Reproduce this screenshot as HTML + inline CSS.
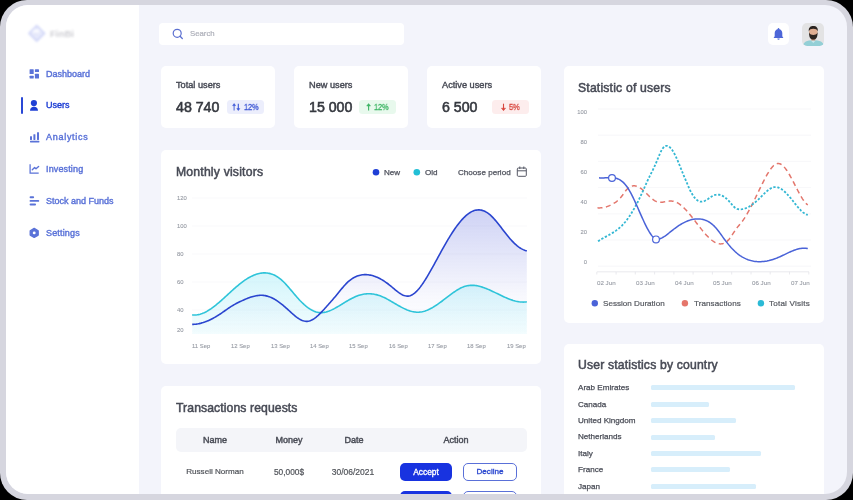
<!DOCTYPE html>
<html><head><meta charset="utf-8"><title>FinBi Dashboard</title>
<style>
*{margin:0;padding:0;box-sizing:border-box;}
html,body{width:853px;height:500px;overflow:hidden;background:#000;font-family:"Liberation Sans", sans-serif;}
.frame{position:absolute;left:0;top:0;width:853px;height:500px;background:#d6d6df;border-radius:27px;}
.inner{position:absolute;left:6px;top:5px;width:841px;height:489px;border-radius:22px;overflow:hidden;background:#f3f4fb;}
.pg{position:absolute;left:-6px;top:-5px;width:853px;height:500px;}
.t{position:absolute;white-space:nowrap;will-change:transform;}
.b{position:absolute;}
.card{position:absolute;background:#fff;border-radius:5px;}
svg{position:absolute;left:0;top:0;overflow:visible;}
</style></head><body>
<div class="frame"></div>
<div class="inner"><div class="pg">
<div class="b" style="left:0px;top:0px;width:139px;height:500px;background:#ffffff;border-radius:0px;"></div>
<svg width="853" height="500" style="filter:blur(1.1px)"><path d="M36.75,25.6 L44.5,33.3 L36.75,41 L29,33.3 Z" fill="#e6e9fb" stroke="#d3d8f8" stroke-width="1.8" stroke-linejoin="round"/><ellipse cx="36.5" cy="31.5" rx="3.8" ry="2.6" fill="#f8f9ff"/><path d="M32,35.5 L35,33 L37.5,34.2 L41.5,30" stroke="#dfe2f8" stroke-width="1" fill="none"/></svg>
<div class="t" style="left:50.40px;top:29.17px;font-size:9.6px;line-height:9.6px;color:#cfcfd4;font-weight:bold;filter:blur(1.1px);">FinBi</div>
<div class="t" style="left:45.50px;top:70.18px;font-size:9px;line-height:9px;color:#5a72d8;-webkit-text-stroke:0.4px #5a72d8;">Dashboard</div>
<div class="t" style="left:45.50px;top:101.38px;font-size:9px;line-height:9px;color:#1e3fd4;-webkit-text-stroke:0.4px #1e3fd4;">Users</div>
<div class="t" style="left:45.50px;top:133.38px;font-size:9px;line-height:9px;color:#5a72d8;-webkit-text-stroke:0.4px #5a72d8;letter-spacing:0.72px;">Analytics</div>
<div class="t" style="left:45.50px;top:165.38px;font-size:9px;line-height:9px;color:#5a72d8;-webkit-text-stroke:0.4px #5a72d8;letter-spacing:0.14px;">Investing</div>
<div class="t" style="left:45.50px;top:196.98px;font-size:9px;line-height:9px;color:#5a72d8;-webkit-text-stroke:0.4px #5a72d8;">Stock and Funds</div>
<div class="t" style="left:45.50px;top:228.78px;font-size:9px;line-height:9px;color:#5a72d8;-webkit-text-stroke:0.4px #5a72d8;letter-spacing:0.17px;">Settings</div>
<div class="b" style="left:21px;top:97px;width:2px;height:17px;background:#2a48d6;border-radius:1px;"></div>
<svg width="853" height="500"><g fill="#5a72d8">
<rect x="29.6" y="69.2" width="4.1" height="4.9" rx="0.6"/><rect x="29.6" y="75.7" width="4.1" height="2.9" rx="0.6"/>
<rect x="34.9" y="69.2" width="4.1" height="2.9" rx="0.6"/><rect x="34.9" y="73.7" width="4.1" height="4.9" rx="0.6"/></g>
<g fill="#1e3fd4"><circle cx="33.9" cy="103.1" r="3.1"/><path d="M30,110.7 C30,108 31.6,106.7 34,106.7 C36.4,106.7 38,108 38,110.7 Z"/></g>
<g fill="#5a72d8"><rect x="30" y="136.2" width="2" height="3.7" rx="0.4"/><rect x="33.4" y="134.2" width="2" height="5.7" rx="0.4"/><rect x="37" y="132.2" width="2" height="7.7" rx="0.4"/><rect x="30" y="140.8" width="9.4" height="1.7" rx="0.4"/></g>
<path d="M30.1,164.3 V173.1 H38.7" stroke="#5a72d8" stroke-width="1.25" fill="none"/>
<path d="M32.3,169.7 L34.6,167.6 L36,168.8 L38.6,166.5" stroke="#5a72d8" stroke-width="1.4" fill="none" stroke-linecap="round" stroke-linejoin="round"/>
<g fill="#5a72d8"><rect x="29.6" y="196.3" width="4.5" height="1.9" rx="0.9"/><rect x="29.6" y="199.9" width="9.6" height="1.9" rx="0.9"/><rect x="29.6" y="203.5" width="6.4" height="1.9" rx="0.9"/></g>
<path d="M34.2,228.4 L38.2,230.7 L38.2,235.1 L34.2,237.4 L30.2,235.1 L30.2,230.7 Z" fill="#5a72d8" stroke="#5a72d8" stroke-width="1.3" stroke-linejoin="round"/>
<circle cx="34.2" cy="232.9" r="1.45" fill="#fff"/>
</svg>
<div class="b" style="left:159px;top:23px;width:245px;height:22px;background:#ffffff;border-radius:4px;"></div>
<svg width="853" height="500"><circle cx="177.2" cy="33.3" r="4.0" stroke="#5b6fd0" stroke-width="1.2" fill="none"/><path d="M180.1,36.3 L182.3,38.5" stroke="#5b6fd0" stroke-width="1.3" stroke-linecap="round"/></svg>
<div class="t" style="left:190.00px;top:30.40px;font-size:7.8px;line-height:7.8px;color:#adafb9;-webkit-text-stroke:0.2px #adafb9;">Search</div>
<div class="b" style="left:767.7px;top:23.3px;width:21.6px;height:22.2px;background:#ffffff;border-radius:5px;"></div>
<svg width="853" height="500"><path d="M773.6,37.9 h9.8 l-1.1,-1.6 v-3.3 c0,-2.3 -1.7,-4.1 -3.8,-4.1 c-2.1,0 -3.8,1.8 -3.8,4.1 v3.3z" fill="#4d66d8"/><circle cx="778.5" cy="28.7" r="0.8" fill="#4d66d8"/><path d="M777.3,38.6 h2.4 a1.2,1.2 0 0 1 -2.4,0z" fill="#4d66d8"/></svg>
<div class="b" style="left:802.3px;top:23px;width:22.2px;height:23px;background:#e3e3e4;border-radius:5px;"></div>
<svg width="853" height="500"><defs><clipPath id="av"><rect x="802.3" y="23" width="22.2" height="23" rx="5"/></clipPath></defs><g clip-path="url(#av)"><path d="M803,46.5 C803,42 806.5,40.2 813.3,40.2 C820,40.2 824,42 824,46.5z" fill="#93cfd6"/><path d="M810.5,40.3 L813.3,43 L816,40.3z" fill="#c9e6ea"/><rect x="811.3" y="36" width="4" height="4.5" fill="#c39077"/><ellipse cx="813.3" cy="32" rx="4.3" ry="5.2" fill="#e0ae92"/><path d="M809,32.3 C809,38.8 811.2,39.6 813.3,39.6 C815.4,39.6 817.6,38.8 817.6,32.3 C816.6,34.6 815,35 813.3,35 C811.6,35 810,34.6 809,32.3z" fill="#2d2521"/><path d="M808.8,31.6 C808.4,27.2 810.6,26 813.3,26 C816,26 818.2,27.2 817.8,31.6 C817.2,29.4 815.6,28.8 813.3,28.8 C811,28.8 809.4,29.4 808.8,31.6z" fill="#2b231f"/></g></svg>
<div class="card" style="left:161px;top:66px;width:114px;height:62px;"></div>
<div class="t" style="left:176.00px;top:81.11px;font-size:9.2px;line-height:9.2px;color:#474a55;-webkit-text-stroke:0.4px #474a55;">Total users</div>
<div class="t" style="left:176.00px;top:99.98px;font-size:14.2px;line-height:14.2px;color:#35383f;-webkit-text-stroke:0.55px #35383f;">48 740</div>
<div class="card" style="left:294px;top:66px;width:114px;height:62px;"></div>
<div class="t" style="left:309.00px;top:81.11px;font-size:9.2px;line-height:9.2px;color:#474a55;-webkit-text-stroke:0.4px #474a55;">New users</div>
<div class="t" style="left:309.00px;top:99.98px;font-size:14.2px;line-height:14.2px;color:#35383f;-webkit-text-stroke:0.55px #35383f;">15 000</div>
<div class="card" style="left:427px;top:66px;width:114px;height:62px;"></div>
<div class="t" style="left:442.00px;top:81.11px;font-size:9.2px;line-height:9.2px;color:#474a55;-webkit-text-stroke:0.4px #474a55;">Active users</div>
<div class="t" style="left:442.00px;top:99.98px;font-size:14.2px;line-height:14.2px;color:#35383f;-webkit-text-stroke:0.55px #35383f;">6 500</div>
<div class="b" style="left:227px;top:100.2px;width:36.6px;height:13.4px;background:#eceefc;border-radius:3.5px;"></div>
<div class="b" style="left:359.2px;top:100.3px;width:36.7px;height:13.4px;background:#e8f9ed;border-radius:3.5px;"></div>
<div class="b" style="left:492.2px;top:100.3px;width:36.5px;height:13.4px;background:#fdeded;border-radius:3.5px;"></div>
<svg width="853" height="500"><path d="M234.1,110.6 V105" stroke="#5a70dc" stroke-width="1.1"/><path d="M232.6,105.6 L234.1,103.6 L235.6,105.6 Z" fill="#3b55d6" stroke="#3b55d6" stroke-width="0.5" stroke-linejoin="round"/><path d="M238.3,103.8 V109.2" stroke="#3b55d6" stroke-width="1.1"/><path d="M236.8,108.6 L238.3,110.6 L239.8,108.6 Z" fill="#3b55d6" stroke="#3b55d6" stroke-width="0.5" stroke-linejoin="round"/><path d="M368.6,110.6 V105.3" stroke="#3db564" stroke-width="1.1"/><path d="M366.7,106 L368.6,103.6 L370.5,106 Z" fill="#3db564" stroke="#3db564" stroke-width="0.5" stroke-linejoin="round"/><path d="M503.5,103.7 V109" stroke="#d8463e" stroke-width="1.1"/><path d="M501.4,108.2 L503.5,110.7 L505.6,108.2 Z" fill="#d8463e" stroke="#d8463e" stroke-width="0.5" stroke-linejoin="round"/></svg>
<div class="t" style="left:244.20px;top:102.82px;font-size:8.6px;line-height:8.6px;color:#3d56d4;-webkit-text-stroke:0.3px #3d56d4;letter-spacing:-0.3px;transform:scaleX(0.88);transform-origin:0 0;">12%</div>
<div class="t" style="left:374.20px;top:102.82px;font-size:8.6px;line-height:8.6px;color:#3db564;-webkit-text-stroke:0.3px #3db564;letter-spacing:-0.3px;transform:scaleX(0.88);transform-origin:0 0;">12%</div>
<div class="t" style="left:509.40px;top:102.82px;font-size:8.6px;line-height:8.6px;color:#d8463e;-webkit-text-stroke:0.3px #d8463e;letter-spacing:-0.3px;transform:scaleX(0.88);transform-origin:0 0;">5%</div>
<div class="card" style="left:161px;top:150px;width:380px;height:214px;"></div>
<div class="t" style="left:176.00px;top:165.97px;font-size:12.2px;line-height:12.2px;color:#474a55;-webkit-text-stroke:0.5px #474a55;letter-spacing:0.2px;">Monthly visitors</div>
<svg width="853" height="500"><circle cx="376" cy="172.3" r="3.3" fill="#1f3fd6"/><circle cx="416.8" cy="172.3" r="3.3" fill="#22bfd6"/></svg>
<div class="t" style="left:384.30px;top:169.04px;font-size:8.1px;line-height:8.1px;color:#4e515c;-webkit-text-stroke:0.25px #4e515c;">New</div>
<div class="t" style="left:424.60px;top:168.54px;font-size:8.1px;line-height:8.1px;color:#4e515c;-webkit-text-stroke:0.25px #4e515c;">Old</div>
<div class="t" style="left:457.50px;top:168.54px;font-size:8.1px;line-height:8.1px;color:#4e515c;-webkit-text-stroke:0.25px #4e515c;">Choose period</div>
<svg width="853" height="500"><rect x="517.3" y="168" width="9" height="8.3" rx="1" stroke="#555864" stroke-width="1" fill="none"/><path d="M517.3,170.8 H526.3 M519.8,166.5 V169 M523.8,166.5 V169" stroke="#555864" stroke-width="1" fill="none"/></svg>
<div class="t" style="left:176.50px;top:195.51px;font-size:5.9px;line-height:5.9px;color:#969aa3;-webkit-text-stroke:0.1px #969aa3;">120</div>
<div class="t" style="left:176.50px;top:223.51px;font-size:5.9px;line-height:5.9px;color:#969aa3;-webkit-text-stroke:0.1px #969aa3;">100</div>
<div class="t" style="left:176.50px;top:251.51px;font-size:5.9px;line-height:5.9px;color:#969aa3;-webkit-text-stroke:0.1px #969aa3;">80</div>
<div class="t" style="left:176.50px;top:279.71px;font-size:5.9px;line-height:5.9px;color:#969aa3;-webkit-text-stroke:0.1px #969aa3;">60</div>
<div class="t" style="left:176.50px;top:307.91px;font-size:5.9px;line-height:5.9px;color:#969aa3;-webkit-text-stroke:0.1px #969aa3;">40</div>
<div class="t" style="left:176.50px;top:328.31px;font-size:5.9px;line-height:5.9px;color:#969aa3;-webkit-text-stroke:0.1px #969aa3;">20</div>
<div class="t" style="left:191.80px;top:343.51px;font-size:5.9px;line-height:5.9px;color:#969aa3;-webkit-text-stroke:0.1px #969aa3;">11 Sep</div>
<div class="t" style="left:231.15px;top:343.51px;font-size:5.9px;line-height:5.9px;color:#969aa3;-webkit-text-stroke:0.1px #969aa3;">12 Sep</div>
<div class="t" style="left:270.50px;top:343.51px;font-size:5.9px;line-height:5.9px;color:#969aa3;-webkit-text-stroke:0.1px #969aa3;">13 Sep</div>
<div class="t" style="left:309.85px;top:343.51px;font-size:5.9px;line-height:5.9px;color:#969aa3;-webkit-text-stroke:0.1px #969aa3;">14 Sep</div>
<div class="t" style="left:349.20px;top:343.51px;font-size:5.9px;line-height:5.9px;color:#969aa3;-webkit-text-stroke:0.1px #969aa3;">15 Sep</div>
<div class="t" style="left:388.55px;top:343.51px;font-size:5.9px;line-height:5.9px;color:#969aa3;-webkit-text-stroke:0.1px #969aa3;">16 Sep</div>
<div class="t" style="left:427.90px;top:343.51px;font-size:5.9px;line-height:5.9px;color:#969aa3;-webkit-text-stroke:0.1px #969aa3;">17 Sep</div>
<div class="t" style="left:467.25px;top:343.51px;font-size:5.9px;line-height:5.9px;color:#969aa3;-webkit-text-stroke:0.1px #969aa3;">18 Sep</div>
<div class="t" style="left:506.60px;top:343.51px;font-size:5.9px;line-height:5.9px;color:#969aa3;-webkit-text-stroke:0.1px #969aa3;">19 Sep</div>
<svg width="853" height="500"><line x1="192" x2="527" y1="198" y2="198" stroke="#f8f8fa" stroke-width="0.8"/><line x1="192" x2="527" y1="226" y2="226" stroke="#f8f8fa" stroke-width="0.8"/><line x1="192" x2="527" y1="254" y2="254" stroke="#f8f8fa" stroke-width="0.8"/><line x1="192" x2="527" y1="282" y2="282" stroke="#f8f8fa" stroke-width="0.8"/><line x1="192" x2="527" y1="310" y2="310" stroke="#f8f8fa" stroke-width="0.8"/></svg>
<svg width="853" height="500"><defs>
<linearGradient id="gb" x1="0" y1="209" x2="0" y2="334" gradientUnits="userSpaceOnUse"><stop offset="0" stop-color="#4a58d8" stop-opacity="0.27"/><stop offset="0.7" stop-color="#4a58d8" stop-opacity="0.04"/><stop offset="1" stop-color="#4a58d8" stop-opacity="0.0"/></linearGradient>
<linearGradient id="gc" x1="0" y1="272" x2="0" y2="334" gradientUnits="userSpaceOnUse"><stop offset="0" stop-color="#6fe0f2" stop-opacity="0.30"/><stop offset="1" stop-color="#6fe0f2" stop-opacity="0.09"/></linearGradient>
</defs>
<path d="M192.20,324.37 L193.20,324.36 L194.20,324.31 L195.20,324.23 L196.20,324.12 L197.20,323.98 L198.20,323.81 L199.20,323.61 L200.20,323.38 L201.20,323.13 L202.20,322.85 L203.20,322.55 L204.20,322.22 L205.20,321.87 L206.20,321.49 L207.20,321.09 L208.20,320.66 L209.20,320.21 L210.20,319.74 L211.20,319.25 L212.20,318.74 L213.20,318.21 L214.20,317.66 L215.20,317.09 L216.20,316.50 L217.20,315.90 L218.20,315.27 L219.20,314.64 L220.20,313.98 L221.20,313.31 L222.20,312.63 L223.20,311.93 L224.20,311.23 L225.20,310.53 L226.20,309.82 L227.20,309.12 L228.20,308.43 L229.20,307.75 L230.20,307.09 L231.20,306.44 L232.20,305.82 L233.20,305.23 L234.20,304.65 L235.20,304.10 L236.20,303.57 L237.20,303.05 L238.20,302.55 L239.20,302.06 L240.20,301.58 L241.20,301.11 L242.20,300.64 L243.20,300.19 L244.20,299.74 L245.20,299.31 L246.20,298.88 L247.20,298.48 L248.20,298.09 L249.20,297.71 L250.20,297.36 L251.20,297.03 L252.20,296.73 L253.20,296.44 L254.20,296.19 L255.20,295.96 L256.20,295.77 L257.20,295.60 L258.20,295.47 L259.20,295.38 L260.20,295.32 L261.20,295.30 L262.20,295.32 L263.20,295.39 L264.20,295.50 L265.20,295.65 L266.20,295.85 L267.20,296.10 L268.20,296.40 L269.20,296.74 L270.20,297.12 L271.20,297.55 L272.20,298.02 L273.20,298.53 L274.20,299.07 L275.20,299.66 L276.20,300.27 L277.20,300.93 L278.20,301.61 L279.20,302.32 L280.20,303.06 L281.20,303.83 L282.20,304.63 L283.20,305.45 L284.20,306.29 L285.20,307.15 L286.20,308.04 L287.20,308.94 L288.20,309.85 L289.20,310.77 L290.20,311.69 L291.20,312.60 L292.20,313.49 L293.20,314.37 L294.20,315.23 L295.20,316.05 L296.20,316.84 L297.20,317.58 L298.20,318.28 L299.20,318.92 L300.20,319.50 L301.20,320.01 L302.20,320.45 L303.20,320.81 L304.20,321.09 L305.20,321.27 L306.20,321.36 L307.20,321.35 L308.20,321.23 L309.20,321.01 L310.20,320.69 L311.20,320.28 L312.20,319.79 L313.20,319.21 L314.20,318.57 L315.20,317.85 L316.20,317.07 L317.20,316.23 L318.20,315.34 L319.20,314.40 L320.20,313.42 L321.20,312.41 L322.20,311.36 L323.20,310.28 L324.20,309.19 L325.20,308.08 L326.20,306.96 L327.20,305.84 L328.20,304.71 L329.20,303.58 L330.20,302.45 L331.20,301.32 L332.20,300.17 L333.20,299.02 L334.20,297.85 L335.20,296.67 L336.20,295.48 L337.20,294.27 L338.20,293.04 L339.20,291.81 L340.20,290.57 L341.20,289.34 L342.20,288.13 L343.20,286.95 L344.20,285.80 L345.20,284.69 L346.20,283.64 L347.20,282.64 L348.20,281.71 L349.20,280.84 L350.20,280.04 L351.20,279.29 L352.20,278.61 L353.20,277.99 L354.20,277.42 L355.20,276.91 L356.20,276.46 L357.20,276.06 L358.20,275.71 L359.20,275.41 L360.20,275.16 L361.20,274.96 L362.20,274.81 L363.20,274.70 L364.20,274.64 L365.20,274.61 L366.20,274.63 L367.20,274.69 L368.20,274.79 L369.20,274.93 L370.20,275.10 L371.20,275.31 L372.20,275.56 L373.20,275.85 L374.20,276.17 L375.20,276.52 L376.20,276.91 L377.20,277.33 L378.20,277.79 L379.20,278.27 L380.20,278.79 L381.20,279.34 L382.20,279.92 L383.20,280.53 L384.20,281.17 L385.20,281.84 L386.20,282.54 L387.20,283.26 L388.20,284.01 L389.20,284.78 L390.20,285.58 L391.20,286.41 L392.20,287.25 L393.20,288.09 L394.20,288.93 L395.20,289.77 L396.20,290.59 L397.20,291.38 L398.20,292.14 L399.20,292.85 L400.20,293.52 L401.20,294.13 L402.20,294.68 L403.20,295.15 L404.20,295.54 L405.20,295.84 L406.20,296.04 L407.20,296.13 L408.20,296.11 L409.20,295.97 L410.20,295.70 L411.20,295.31 L412.20,294.80 L413.20,294.18 L414.20,293.45 L415.20,292.62 L416.20,291.70 L417.20,290.68 L418.20,289.58 L419.20,288.39 L420.20,287.13 L421.20,285.79 L422.20,284.40 L423.20,282.94 L424.20,281.42 L425.20,279.86 L426.20,278.24 L427.20,276.59 L428.20,274.91 L429.20,273.19 L430.20,271.45 L431.20,269.69 L432.20,267.90 L433.20,266.10 L434.20,264.29 L435.20,262.47 L436.20,260.63 L437.20,258.80 L438.20,256.96 L439.20,255.13 L440.20,253.30 L441.20,251.48 L442.20,249.67 L443.20,247.87 L444.20,246.09 L445.20,244.33 L446.20,242.60 L447.20,240.88 L448.20,239.20 L449.20,237.54 L450.20,235.92 L451.20,234.32 L452.20,232.76 L453.20,231.23 L454.20,229.74 L455.20,228.30 L456.20,226.89 L457.20,225.52 L458.20,224.20 L459.20,222.93 L460.20,221.70 L461.20,220.52 L462.20,219.40 L463.20,218.33 L464.20,217.31 L465.20,216.35 L466.20,215.45 L467.20,214.61 L468.20,213.83 L469.20,213.12 L470.20,212.48 L471.20,211.90 L472.20,211.39 L473.20,210.95 L474.20,210.59 L475.20,210.30 L476.20,210.09 L477.20,209.95 L478.20,209.88 L479.20,209.89 L480.20,209.98 L481.20,210.14 L482.20,210.37 L483.20,210.68 L484.20,211.07 L485.20,211.53 L486.20,212.07 L487.20,212.68 L488.20,213.36 L489.20,214.12 L490.20,214.96 L491.20,215.87 L492.20,216.84 L493.20,217.88 L494.20,218.96 L495.20,220.10 L496.20,221.28 L497.20,222.49 L498.20,223.74 L499.20,225.01 L500.20,226.30 L501.20,227.60 L502.20,228.91 L503.20,230.21 L504.20,231.52 L505.20,232.81 L506.20,234.09 L507.20,235.35 L508.20,236.57 L509.20,237.76 L510.20,238.92 L511.20,240.03 L512.20,241.10 L513.20,242.13 L514.20,243.12 L515.20,244.05 L516.20,244.94 L517.20,245.77 L518.20,246.56 L519.20,247.29 L520.20,247.96 L521.20,248.58 L522.20,249.13 L523.20,249.63 L524.20,250.06 L525.20,250.43 L526.20,250.73 L526.80,250.88 L526.8,334 L192.2,334 Z" fill="url(#gb)"/>
<path d="M192.20,314.85 L193.20,314.96 L194.20,315.00 L195.20,314.99 L196.20,314.93 L197.20,314.81 L198.20,314.65 L199.20,314.43 L200.20,314.16 L201.20,313.85 L202.20,313.50 L203.20,313.10 L204.20,312.66 L205.20,312.19 L206.20,311.67 L207.20,311.12 L208.20,310.53 L209.20,309.91 L210.20,309.26 L211.20,308.59 L212.20,307.88 L213.20,307.15 L214.20,306.39 L215.20,305.61 L216.20,304.81 L217.20,303.99 L218.20,303.15 L219.20,302.30 L220.20,301.43 L221.20,300.55 L222.20,299.66 L223.20,298.76 L224.20,297.85 L225.20,296.94 L226.20,296.02 L227.20,295.10 L228.20,294.18 L229.20,293.25 L230.20,292.34 L231.20,291.42 L232.20,290.51 L233.20,289.61 L234.20,288.72 L235.20,287.83 L236.20,286.96 L237.20,286.11 L238.20,285.27 L239.20,284.45 L240.20,283.64 L241.20,282.86 L242.20,282.10 L243.20,281.36 L244.20,280.65 L245.20,279.96 L246.20,279.30 L247.20,278.66 L248.20,278.05 L249.20,277.47 L250.20,276.92 L251.20,276.41 L252.20,275.92 L253.20,275.46 L254.20,275.04 L255.20,274.65 L256.20,274.30 L257.20,273.99 L258.20,273.71 L259.20,273.47 L260.20,273.27 L261.20,273.11 L262.20,272.99 L263.20,272.91 L264.20,272.87 L265.20,272.88 L266.20,272.93 L267.20,273.03 L268.20,273.17 L269.20,273.36 L270.20,273.60 L271.20,273.89 L272.20,274.23 L273.20,274.62 L274.20,275.07 L275.20,275.56 L276.20,276.11 L277.20,276.72 L278.20,277.38 L279.20,278.09 L280.20,278.87 L281.20,279.70 L282.20,280.59 L283.20,281.54 L284.20,282.53 L285.20,283.56 L286.20,284.64 L287.20,285.74 L288.20,286.87 L289.20,288.03 L290.20,289.20 L291.20,290.38 L292.20,291.58 L293.20,292.77 L294.20,293.96 L295.20,295.14 L296.20,296.31 L297.20,297.45 L298.20,298.58 L299.20,299.67 L300.20,300.74 L301.20,301.76 L302.20,302.75 L303.20,303.70 L304.20,304.62 L305.20,305.49 L306.20,306.32 L307.20,307.10 L308.20,307.84 L309.20,308.53 L310.20,309.18 L311.20,309.77 L312.20,310.31 L313.20,310.80 L314.20,311.24 L315.20,311.62 L316.20,311.94 L317.20,312.20 L318.20,312.40 L319.20,312.54 L320.20,312.62 L321.20,312.63 L322.20,312.59 L323.20,312.50 L324.20,312.35 L325.20,312.16 L326.20,311.91 L327.20,311.63 L328.20,311.30 L329.20,310.94 L330.20,310.54 L331.20,310.11 L332.20,309.65 L333.20,309.16 L334.20,308.65 L335.20,308.11 L336.20,307.56 L337.20,306.99 L338.20,306.41 L339.20,305.82 L340.20,305.21 L341.20,304.61 L342.20,303.99 L343.20,303.38 L344.20,302.77 L345.20,302.16 L346.20,301.55 L347.20,300.95 L348.20,300.37 L349.20,299.79 L350.20,299.23 L351.20,298.69 L352.20,298.16 L353.20,297.66 L354.20,297.18 L355.20,296.73 L356.20,296.31 L357.20,295.91 L358.20,295.55 L359.20,295.22 L360.20,294.93 L361.20,294.67 L362.20,294.44 L363.20,294.24 L364.20,294.07 L365.20,293.94 L366.20,293.84 L367.20,293.77 L368.20,293.74 L369.20,293.74 L370.20,293.77 L371.20,293.83 L372.20,293.93 L373.20,294.06 L374.20,294.22 L375.20,294.41 L376.20,294.64 L377.20,294.89 L378.20,295.18 L379.20,295.51 L380.20,295.86 L381.20,296.25 L382.20,296.67 L383.20,297.11 L384.20,297.58 L385.20,298.07 L386.20,298.58 L387.20,299.11 L388.20,299.66 L389.20,300.22 L390.20,300.78 L391.20,301.36 L392.20,301.95 L393.20,302.53 L394.20,303.12 L395.20,303.71 L396.20,304.30 L397.20,304.88 L398.20,305.45 L399.20,306.01 L400.20,306.56 L401.20,307.10 L402.20,307.62 L403.20,308.12 L404.20,308.60 L405.20,309.06 L406.20,309.49 L407.20,309.90 L408.20,310.28 L409.20,310.63 L410.20,310.95 L411.20,311.24 L412.20,311.49 L413.20,311.71 L414.20,311.89 L415.20,312.03 L416.20,312.12 L417.20,312.18 L418.20,312.18 L419.20,312.14 L420.20,312.05 L421.20,311.92 L422.20,311.73 L423.20,311.50 L424.20,311.23 L425.20,310.92 L426.20,310.56 L427.20,310.17 L428.20,309.74 L429.20,309.28 L430.20,308.79 L431.20,308.26 L432.20,307.71 L433.20,307.13 L434.20,306.52 L435.20,305.90 L436.20,305.25 L437.20,304.57 L438.20,303.89 L439.20,303.18 L440.20,302.46 L441.20,301.73 L442.20,300.99 L443.20,300.23 L444.20,299.47 L445.20,298.71 L446.20,297.94 L447.20,297.17 L448.20,296.40 L449.20,295.64 L450.20,294.88 L451.20,294.14 L452.20,293.41 L453.20,292.69 L454.20,291.99 L455.20,291.31 L456.20,290.65 L457.20,290.03 L458.20,289.43 L459.20,288.86 L460.20,288.32 L461.20,287.83 L462.20,287.37 L463.20,286.96 L464.20,286.59 L465.20,286.26 L466.20,285.99 L467.20,285.77 L468.20,285.59 L469.20,285.46 L470.20,285.37 L471.20,285.33 L472.20,285.32 L473.20,285.35 L474.20,285.42 L475.20,285.53 L476.20,285.66 L477.20,285.83 L478.20,286.04 L479.20,286.27 L480.20,286.52 L481.20,286.81 L482.20,287.12 L483.20,287.45 L484.20,287.80 L485.20,288.17 L486.20,288.56 L487.20,288.96 L488.20,289.38 L489.20,289.82 L490.20,290.26 L491.20,290.72 L492.20,291.18 L493.20,291.66 L494.20,292.13 L495.20,292.62 L496.20,293.11 L497.20,293.59 L498.20,294.08 L499.20,294.57 L500.20,295.05 L501.20,295.54 L502.20,296.01 L503.20,296.48 L504.20,296.94 L505.20,297.39 L506.20,297.83 L507.20,298.25 L508.20,298.66 L509.20,299.06 L510.20,299.43 L511.20,299.79 L512.20,300.13 L513.20,300.45 L514.20,300.74 L515.20,301.01 L516.20,301.25 L517.20,301.46 L518.20,301.65 L519.20,301.81 L520.20,301.93 L521.20,302.02 L522.20,302.07 L523.20,302.09 L524.20,302.07 L525.20,302.01 L526.20,301.91 L526.80,301.83 L526.8,334 L192.2,334 Z" fill="url(#gc)"/>
<path d="M192.20,314.85 L193.20,314.96 L194.20,315.00 L195.20,314.99 L196.20,314.93 L197.20,314.81 L198.20,314.65 L199.20,314.43 L200.20,314.16 L201.20,313.85 L202.20,313.50 L203.20,313.10 L204.20,312.66 L205.20,312.19 L206.20,311.67 L207.20,311.12 L208.20,310.53 L209.20,309.91 L210.20,309.26 L211.20,308.59 L212.20,307.88 L213.20,307.15 L214.20,306.39 L215.20,305.61 L216.20,304.81 L217.20,303.99 L218.20,303.15 L219.20,302.30 L220.20,301.43 L221.20,300.55 L222.20,299.66 L223.20,298.76 L224.20,297.85 L225.20,296.94 L226.20,296.02 L227.20,295.10 L228.20,294.18 L229.20,293.25 L230.20,292.34 L231.20,291.42 L232.20,290.51 L233.20,289.61 L234.20,288.72 L235.20,287.83 L236.20,286.96 L237.20,286.11 L238.20,285.27 L239.20,284.45 L240.20,283.64 L241.20,282.86 L242.20,282.10 L243.20,281.36 L244.20,280.65 L245.20,279.96 L246.20,279.30 L247.20,278.66 L248.20,278.05 L249.20,277.47 L250.20,276.92 L251.20,276.41 L252.20,275.92 L253.20,275.46 L254.20,275.04 L255.20,274.65 L256.20,274.30 L257.20,273.99 L258.20,273.71 L259.20,273.47 L260.20,273.27 L261.20,273.11 L262.20,272.99 L263.20,272.91 L264.20,272.87 L265.20,272.88 L266.20,272.93 L267.20,273.03 L268.20,273.17 L269.20,273.36 L270.20,273.60 L271.20,273.89 L272.20,274.23 L273.20,274.62 L274.20,275.07 L275.20,275.56 L276.20,276.11 L277.20,276.72 L278.20,277.38 L279.20,278.09 L280.20,278.87 L281.20,279.70 L282.20,280.59 L283.20,281.54 L284.20,282.53 L285.20,283.56 L286.20,284.64 L287.20,285.74 L288.20,286.87 L289.20,288.03 L290.20,289.20 L291.20,290.38 L292.20,291.58 L293.20,292.77 L294.20,293.96 L295.20,295.14 L296.20,296.31 L297.20,297.45 L298.20,298.58 L299.20,299.67 L300.20,300.74 L301.20,301.76 L302.20,302.75 L303.20,303.70 L304.20,304.62 L305.20,305.49 L306.20,306.32 L307.20,307.10 L308.20,307.84 L309.20,308.53 L310.20,309.18 L311.20,309.77 L312.20,310.31 L313.20,310.80 L314.20,311.24 L315.20,311.62 L316.20,311.94 L317.20,312.20 L318.20,312.40 L319.20,312.54 L320.20,312.62 L321.20,312.63 L322.20,312.59 L323.20,312.50 L324.20,312.35 L325.20,312.16 L326.20,311.91 L327.20,311.63 L328.20,311.30 L329.20,310.94 L330.20,310.54 L331.20,310.11 L332.20,309.65 L333.20,309.16 L334.20,308.65 L335.20,308.11 L336.20,307.56 L337.20,306.99 L338.20,306.41 L339.20,305.82 L340.20,305.21 L341.20,304.61 L342.20,303.99 L343.20,303.38 L344.20,302.77 L345.20,302.16 L346.20,301.55 L347.20,300.95 L348.20,300.37 L349.20,299.79 L350.20,299.23 L351.20,298.69 L352.20,298.16 L353.20,297.66 L354.20,297.18 L355.20,296.73 L356.20,296.31 L357.20,295.91 L358.20,295.55 L359.20,295.22 L360.20,294.93 L361.20,294.67 L362.20,294.44 L363.20,294.24 L364.20,294.07 L365.20,293.94 L366.20,293.84 L367.20,293.77 L368.20,293.74 L369.20,293.74 L370.20,293.77 L371.20,293.83 L372.20,293.93 L373.20,294.06 L374.20,294.22 L375.20,294.41 L376.20,294.64 L377.20,294.89 L378.20,295.18 L379.20,295.51 L380.20,295.86 L381.20,296.25 L382.20,296.67 L383.20,297.11 L384.20,297.58 L385.20,298.07 L386.20,298.58 L387.20,299.11 L388.20,299.66 L389.20,300.22 L390.20,300.78 L391.20,301.36 L392.20,301.95 L393.20,302.53 L394.20,303.12 L395.20,303.71 L396.20,304.30 L397.20,304.88 L398.20,305.45 L399.20,306.01 L400.20,306.56 L401.20,307.10 L402.20,307.62 L403.20,308.12 L404.20,308.60 L405.20,309.06 L406.20,309.49 L407.20,309.90 L408.20,310.28 L409.20,310.63 L410.20,310.95 L411.20,311.24 L412.20,311.49 L413.20,311.71 L414.20,311.89 L415.20,312.03 L416.20,312.12 L417.20,312.18 L418.20,312.18 L419.20,312.14 L420.20,312.05 L421.20,311.92 L422.20,311.73 L423.20,311.50 L424.20,311.23 L425.20,310.92 L426.20,310.56 L427.20,310.17 L428.20,309.74 L429.20,309.28 L430.20,308.79 L431.20,308.26 L432.20,307.71 L433.20,307.13 L434.20,306.52 L435.20,305.90 L436.20,305.25 L437.20,304.57 L438.20,303.89 L439.20,303.18 L440.20,302.46 L441.20,301.73 L442.20,300.99 L443.20,300.23 L444.20,299.47 L445.20,298.71 L446.20,297.94 L447.20,297.17 L448.20,296.40 L449.20,295.64 L450.20,294.88 L451.20,294.14 L452.20,293.41 L453.20,292.69 L454.20,291.99 L455.20,291.31 L456.20,290.65 L457.20,290.03 L458.20,289.43 L459.20,288.86 L460.20,288.32 L461.20,287.83 L462.20,287.37 L463.20,286.96 L464.20,286.59 L465.20,286.26 L466.20,285.99 L467.20,285.77 L468.20,285.59 L469.20,285.46 L470.20,285.37 L471.20,285.33 L472.20,285.32 L473.20,285.35 L474.20,285.42 L475.20,285.53 L476.20,285.66 L477.20,285.83 L478.20,286.04 L479.20,286.27 L480.20,286.52 L481.20,286.81 L482.20,287.12 L483.20,287.45 L484.20,287.80 L485.20,288.17 L486.20,288.56 L487.20,288.96 L488.20,289.38 L489.20,289.82 L490.20,290.26 L491.20,290.72 L492.20,291.18 L493.20,291.66 L494.20,292.13 L495.20,292.62 L496.20,293.11 L497.20,293.59 L498.20,294.08 L499.20,294.57 L500.20,295.05 L501.20,295.54 L502.20,296.01 L503.20,296.48 L504.20,296.94 L505.20,297.39 L506.20,297.83 L507.20,298.25 L508.20,298.66 L509.20,299.06 L510.20,299.43 L511.20,299.79 L512.20,300.13 L513.20,300.45 L514.20,300.74 L515.20,301.01 L516.20,301.25 L517.20,301.46 L518.20,301.65 L519.20,301.81 L520.20,301.93 L521.20,302.02 L522.20,302.07 L523.20,302.09 L524.20,302.07 L525.20,302.01 L526.20,301.91 L526.80,301.83" stroke="#2ec4d9" stroke-width="1.6" fill="none"/>
<path d="M192.20,324.37 L193.20,324.36 L194.20,324.31 L195.20,324.23 L196.20,324.12 L197.20,323.98 L198.20,323.81 L199.20,323.61 L200.20,323.38 L201.20,323.13 L202.20,322.85 L203.20,322.55 L204.20,322.22 L205.20,321.87 L206.20,321.49 L207.20,321.09 L208.20,320.66 L209.20,320.21 L210.20,319.74 L211.20,319.25 L212.20,318.74 L213.20,318.21 L214.20,317.66 L215.20,317.09 L216.20,316.50 L217.20,315.90 L218.20,315.27 L219.20,314.64 L220.20,313.98 L221.20,313.31 L222.20,312.63 L223.20,311.93 L224.20,311.23 L225.20,310.53 L226.20,309.82 L227.20,309.12 L228.20,308.43 L229.20,307.75 L230.20,307.09 L231.20,306.44 L232.20,305.82 L233.20,305.23 L234.20,304.65 L235.20,304.10 L236.20,303.57 L237.20,303.05 L238.20,302.55 L239.20,302.06 L240.20,301.58 L241.20,301.11 L242.20,300.64 L243.20,300.19 L244.20,299.74 L245.20,299.31 L246.20,298.88 L247.20,298.48 L248.20,298.09 L249.20,297.71 L250.20,297.36 L251.20,297.03 L252.20,296.73 L253.20,296.44 L254.20,296.19 L255.20,295.96 L256.20,295.77 L257.20,295.60 L258.20,295.47 L259.20,295.38 L260.20,295.32 L261.20,295.30 L262.20,295.32 L263.20,295.39 L264.20,295.50 L265.20,295.65 L266.20,295.85 L267.20,296.10 L268.20,296.40 L269.20,296.74 L270.20,297.12 L271.20,297.55 L272.20,298.02 L273.20,298.53 L274.20,299.07 L275.20,299.66 L276.20,300.27 L277.20,300.93 L278.20,301.61 L279.20,302.32 L280.20,303.06 L281.20,303.83 L282.20,304.63 L283.20,305.45 L284.20,306.29 L285.20,307.15 L286.20,308.04 L287.20,308.94 L288.20,309.85 L289.20,310.77 L290.20,311.69 L291.20,312.60 L292.20,313.49 L293.20,314.37 L294.20,315.23 L295.20,316.05 L296.20,316.84 L297.20,317.58 L298.20,318.28 L299.20,318.92 L300.20,319.50 L301.20,320.01 L302.20,320.45 L303.20,320.81 L304.20,321.09 L305.20,321.27 L306.20,321.36 L307.20,321.35 L308.20,321.23 L309.20,321.01 L310.20,320.69 L311.20,320.28 L312.20,319.79 L313.20,319.21 L314.20,318.57 L315.20,317.85 L316.20,317.07 L317.20,316.23 L318.20,315.34 L319.20,314.40 L320.20,313.42 L321.20,312.41 L322.20,311.36 L323.20,310.28 L324.20,309.19 L325.20,308.08 L326.20,306.96 L327.20,305.84 L328.20,304.71 L329.20,303.58 L330.20,302.45 L331.20,301.32 L332.20,300.17 L333.20,299.02 L334.20,297.85 L335.20,296.67 L336.20,295.48 L337.20,294.27 L338.20,293.04 L339.20,291.81 L340.20,290.57 L341.20,289.34 L342.20,288.13 L343.20,286.95 L344.20,285.80 L345.20,284.69 L346.20,283.64 L347.20,282.64 L348.20,281.71 L349.20,280.84 L350.20,280.04 L351.20,279.29 L352.20,278.61 L353.20,277.99 L354.20,277.42 L355.20,276.91 L356.20,276.46 L357.20,276.06 L358.20,275.71 L359.20,275.41 L360.20,275.16 L361.20,274.96 L362.20,274.81 L363.20,274.70 L364.20,274.64 L365.20,274.61 L366.20,274.63 L367.20,274.69 L368.20,274.79 L369.20,274.93 L370.20,275.10 L371.20,275.31 L372.20,275.56 L373.20,275.85 L374.20,276.17 L375.20,276.52 L376.20,276.91 L377.20,277.33 L378.20,277.79 L379.20,278.27 L380.20,278.79 L381.20,279.34 L382.20,279.92 L383.20,280.53 L384.20,281.17 L385.20,281.84 L386.20,282.54 L387.20,283.26 L388.20,284.01 L389.20,284.78 L390.20,285.58 L391.20,286.41 L392.20,287.25 L393.20,288.09 L394.20,288.93 L395.20,289.77 L396.20,290.59 L397.20,291.38 L398.20,292.14 L399.20,292.85 L400.20,293.52 L401.20,294.13 L402.20,294.68 L403.20,295.15 L404.20,295.54 L405.20,295.84 L406.20,296.04 L407.20,296.13 L408.20,296.11 L409.20,295.97 L410.20,295.70 L411.20,295.31 L412.20,294.80 L413.20,294.18 L414.20,293.45 L415.20,292.62 L416.20,291.70 L417.20,290.68 L418.20,289.58 L419.20,288.39 L420.20,287.13 L421.20,285.79 L422.20,284.40 L423.20,282.94 L424.20,281.42 L425.20,279.86 L426.20,278.24 L427.20,276.59 L428.20,274.91 L429.20,273.19 L430.20,271.45 L431.20,269.69 L432.20,267.90 L433.20,266.10 L434.20,264.29 L435.20,262.47 L436.20,260.63 L437.20,258.80 L438.20,256.96 L439.20,255.13 L440.20,253.30 L441.20,251.48 L442.20,249.67 L443.20,247.87 L444.20,246.09 L445.20,244.33 L446.20,242.60 L447.20,240.88 L448.20,239.20 L449.20,237.54 L450.20,235.92 L451.20,234.32 L452.20,232.76 L453.20,231.23 L454.20,229.74 L455.20,228.30 L456.20,226.89 L457.20,225.52 L458.20,224.20 L459.20,222.93 L460.20,221.70 L461.20,220.52 L462.20,219.40 L463.20,218.33 L464.20,217.31 L465.20,216.35 L466.20,215.45 L467.20,214.61 L468.20,213.83 L469.20,213.12 L470.20,212.48 L471.20,211.90 L472.20,211.39 L473.20,210.95 L474.20,210.59 L475.20,210.30 L476.20,210.09 L477.20,209.95 L478.20,209.88 L479.20,209.89 L480.20,209.98 L481.20,210.14 L482.20,210.37 L483.20,210.68 L484.20,211.07 L485.20,211.53 L486.20,212.07 L487.20,212.68 L488.20,213.36 L489.20,214.12 L490.20,214.96 L491.20,215.87 L492.20,216.84 L493.20,217.88 L494.20,218.96 L495.20,220.10 L496.20,221.28 L497.20,222.49 L498.20,223.74 L499.20,225.01 L500.20,226.30 L501.20,227.60 L502.20,228.91 L503.20,230.21 L504.20,231.52 L505.20,232.81 L506.20,234.09 L507.20,235.35 L508.20,236.57 L509.20,237.76 L510.20,238.92 L511.20,240.03 L512.20,241.10 L513.20,242.13 L514.20,243.12 L515.20,244.05 L516.20,244.94 L517.20,245.77 L518.20,246.56 L519.20,247.29 L520.20,247.96 L521.20,248.58 L522.20,249.13 L523.20,249.63 L524.20,250.06 L525.20,250.43 L526.20,250.73 L526.80,250.88" stroke="#2a45cf" stroke-width="1.6" fill="none"/>
</svg>
<div class="card" style="left:161px;top:386px;width:380px;height:130px;"></div>
<div class="t" style="left:176.00px;top:402.27px;font-size:12.2px;line-height:12.2px;color:#474a55;-webkit-text-stroke:0.5px #474a55;letter-spacing:0.1px;">Transactions requests</div>
<div class="b" style="left:175.5px;top:428px;width:351.5px;height:24px;background:#f4f5f9;border-radius:5px;"></div>
<div class="t" style="left:64.50px;width:300px;text-align:center;top:435.78px;font-size:9px;line-height:9px;color:#4a4d57;-webkit-text-stroke:0.45px #4a4d57;">Name</div>
<div class="t" style="left:138.70px;width:300px;text-align:center;top:435.78px;font-size:9px;line-height:9px;color:#4a4d57;-webkit-text-stroke:0.45px #4a4d57;">Money</div>
<div class="t" style="left:203.50px;width:300px;text-align:center;top:435.78px;font-size:9px;line-height:9px;color:#4a4d57;-webkit-text-stroke:0.45px #4a4d57;">Date</div>
<div class="t" style="left:306.40px;width:300px;text-align:center;top:435.78px;font-size:9px;line-height:9px;color:#4a4d57;-webkit-text-stroke:0.45px #4a4d57;">Action</div>
<div class="t" style="left:64.50px;width:300px;text-align:center;top:468.04px;font-size:8.1px;line-height:8.1px;color:#505359;-webkit-text-stroke:0.2px #505359;">Russell Norman</div>
<div class="t" style="left:138.70px;width:300px;text-align:center;top:467.87px;font-size:8.3px;line-height:8.3px;color:#505359;-webkit-text-stroke:0.2px #505359;">50,000$</div>
<div class="t" style="left:203.10px;width:300px;text-align:center;top:467.70px;font-size:8.5px;line-height:8.5px;color:#505359;-webkit-text-stroke:0.2px #505359;">30/06/2021</div>
<div class="b" style="left:399.6px;top:462.9px;width:52.8px;height:17.8px;background:#1833e0;border-radius:5px;"></div>
<div class="t" style="left:275.90px;width:300px;text-align:center;top:467.99px;font-size:8.4px;line-height:8.4px;color:#ffffff;-webkit-text-stroke:0.35px #ffffff;">Accept</div>
<div class="b" style="left:462.5px;top:462.9px;width:54.8px;height:17.8px;background:#ffffff;border-radius:5px;border:1px solid #5a70d8;"></div>
<div class="t" style="left:339.80px;width:300px;text-align:center;top:468.24px;font-size:8.1px;line-height:8.1px;color:#2e4bd0;-webkit-text-stroke:0.35px #2e4bd0;">Decline</div>
<div class="b" style="left:399.6px;top:490.9px;width:52.8px;height:17.8px;background:#1833e0;border-radius:5px;"></div>
<div class="b" style="left:462.5px;top:490.9px;width:54.8px;height:17.8px;background:#ffffff;border-radius:5px;border:1px solid #5a70d8;"></div>
<div class="card" style="left:563.5px;top:66px;width:260.5px;height:257px;"></div>
<div class="t" style="left:578.00px;top:81.57px;font-size:12.2px;line-height:12.2px;color:#474a55;-webkit-text-stroke:0.5px #474a55;letter-spacing:0.19px;">Statistic of users</div>
<div class="t" style="left:287.20px;width:300px;text-align:right;top:109.69px;font-size:5.8px;line-height:5.8px;color:#969aa3;-webkit-text-stroke:0.1px #969aa3;">100</div>
<div class="t" style="left:287.20px;width:300px;text-align:right;top:139.69px;font-size:5.8px;line-height:5.8px;color:#969aa3;-webkit-text-stroke:0.1px #969aa3;">80</div>
<div class="t" style="left:287.20px;width:300px;text-align:right;top:169.69px;font-size:5.8px;line-height:5.8px;color:#969aa3;-webkit-text-stroke:0.1px #969aa3;">60</div>
<div class="t" style="left:287.20px;width:300px;text-align:right;top:199.69px;font-size:5.8px;line-height:5.8px;color:#969aa3;-webkit-text-stroke:0.1px #969aa3;">40</div>
<div class="t" style="left:287.20px;width:300px;text-align:right;top:229.69px;font-size:5.8px;line-height:5.8px;color:#969aa3;-webkit-text-stroke:0.1px #969aa3;">20</div>
<div class="t" style="left:287.20px;width:300px;text-align:right;top:259.69px;font-size:5.8px;line-height:5.8px;color:#969aa3;-webkit-text-stroke:0.1px #969aa3;">0</div>
<svg width="853" height="500"><line x1="598" x2="811" y1="109.0" y2="109.0" stroke="#f5f5f7" stroke-width="0.8"/><line x1="598" x2="811" y1="135.2" y2="135.2" stroke="#f5f5f7" stroke-width="0.8"/><line x1="598" x2="811" y1="161.4" y2="161.4" stroke="#f5f5f7" stroke-width="0.8"/><line x1="598" x2="811" y1="187.6" y2="187.6" stroke="#f5f5f7" stroke-width="0.8"/><line x1="598" x2="811" y1="213.8" y2="213.8" stroke="#f5f5f7" stroke-width="0.8"/><line x1="598" x2="811" y1="240.0" y2="240.0" stroke="#f5f5f7" stroke-width="0.8"/><line x1="598" x2="811" y1="266.2" y2="266.2" stroke="#f5f5f7" stroke-width="0.8"/><line x1="597" x2="809" y1="271.8" y2="271.8" stroke="#e4e4ea" stroke-width="0.8"/><line x1="596.8" x2="596.8" y1="271.8" y2="274.5" stroke="#e4e4ea" stroke-width="0.8"/><line x1="616.1" x2="616.1" y1="271.8" y2="274.5" stroke="#e4e4ea" stroke-width="0.8"/><line x1="635.3" x2="635.3" y1="271.8" y2="274.5" stroke="#e4e4ea" stroke-width="0.8"/><line x1="654.6" x2="654.6" y1="271.8" y2="274.5" stroke="#e4e4ea" stroke-width="0.8"/><line x1="673.9" x2="673.9" y1="271.8" y2="274.5" stroke="#e4e4ea" stroke-width="0.8"/><line x1="693.1" x2="693.1" y1="271.8" y2="274.5" stroke="#e4e4ea" stroke-width="0.8"/><line x1="712.4" x2="712.4" y1="271.8" y2="274.5" stroke="#e4e4ea" stroke-width="0.8"/><line x1="731.7" x2="731.7" y1="271.8" y2="274.5" stroke="#e4e4ea" stroke-width="0.8"/><line x1="751.0" x2="751.0" y1="271.8" y2="274.5" stroke="#e4e4ea" stroke-width="0.8"/><line x1="770.2" x2="770.2" y1="271.8" y2="274.5" stroke="#e4e4ea" stroke-width="0.8"/><line x1="789.5" x2="789.5" y1="271.8" y2="274.5" stroke="#e4e4ea" stroke-width="0.8"/><line x1="808.8" x2="808.8" y1="271.8" y2="274.5" stroke="#e4e4ea" stroke-width="0.8"/></svg>
<div class="t" style="left:596.80px;top:279.85px;font-size:6.2px;line-height:6.2px;color:#969aa3;-webkit-text-stroke:0.1px #969aa3;">02 Jun</div>
<div class="t" style="left:635.65px;top:279.85px;font-size:6.2px;line-height:6.2px;color:#969aa3;-webkit-text-stroke:0.1px #969aa3;">03 Jun</div>
<div class="t" style="left:674.50px;top:279.85px;font-size:6.2px;line-height:6.2px;color:#969aa3;-webkit-text-stroke:0.1px #969aa3;">04 Jun</div>
<div class="t" style="left:713.35px;top:279.85px;font-size:6.2px;line-height:6.2px;color:#969aa3;-webkit-text-stroke:0.1px #969aa3;">05 Jun</div>
<div class="t" style="left:752.20px;top:279.85px;font-size:6.2px;line-height:6.2px;color:#969aa3;-webkit-text-stroke:0.1px #969aa3;">06 Jun</div>
<div class="t" style="left:791.05px;top:279.85px;font-size:6.2px;line-height:6.2px;color:#969aa3;-webkit-text-stroke:0.1px #969aa3;">07 Jun</div>
<svg width="853" height="500">
<path d="M597.50,207.82 L598.50,207.88 L599.50,207.90 L600.50,207.87 L601.50,207.79 L602.50,207.67 L603.50,207.51 L604.50,207.30 L605.50,207.04 L606.50,206.75 L607.50,206.41 L608.50,206.04 L609.50,205.62 L610.50,205.17 L611.50,204.68 L612.50,204.15 L613.50,203.58 L614.50,202.96 L615.50,202.28 L616.50,201.54 L617.50,200.72 L618.50,199.82 L619.50,198.83 L620.50,197.73 L621.50,196.53 L622.50,195.21 L623.50,193.81 L624.50,192.40 L625.50,191.05 L626.50,189.84 L627.50,188.80 L628.50,187.92 L629.50,187.20 L630.50,186.63 L631.50,186.21 L632.50,185.94 L633.50,185.80 L634.50,185.79 L635.50,185.91 L636.50,186.15 L637.50,186.50 L638.50,186.96 L639.50,187.52 L640.50,188.18 L641.50,188.93 L642.50,189.76 L643.50,190.65 L644.50,191.59 L645.50,192.56 L646.50,193.56 L647.50,194.56 L648.50,195.55 L649.50,196.53 L650.50,197.46 L651.50,198.35 L652.50,199.18 L653.50,199.93 L654.50,200.59 L655.50,201.14 L656.50,201.58 L657.50,201.89 L658.50,202.10 L659.50,202.22 L660.50,202.26 L661.50,202.23 L662.50,202.14 L663.50,202.01 L664.50,201.86 L665.50,201.68 L666.50,201.51 L667.50,201.34 L668.50,201.20 L669.50,201.10 L670.50,201.04 L671.50,201.05 L672.50,201.13 L673.50,201.30 L674.50,201.56 L675.50,201.91 L676.50,202.34 L677.50,202.86 L678.50,203.45 L679.50,204.12 L680.50,204.86 L681.50,205.66 L682.50,206.52 L683.50,207.45 L684.50,208.42 L685.50,209.45 L686.50,210.52 L687.50,211.64 L688.50,212.80 L689.50,213.99 L690.50,215.21 L691.50,216.46 L692.50,217.73 L693.50,219.01 L694.50,220.31 L695.50,221.62 L696.50,222.93 L697.50,224.24 L698.50,225.54 L699.50,226.84 L700.50,228.12 L701.50,229.38 L702.50,230.62 L703.50,231.83 L704.50,233.01 L705.50,234.15 L706.50,235.26 L707.50,236.31 L708.50,237.32 L709.50,238.27 L710.50,239.17 L711.50,240.00 L712.50,240.76 L713.50,241.45 L714.50,242.07 L715.50,242.60 L716.50,243.05 L717.50,243.40 L718.50,243.67 L719.50,243.83 L720.50,243.89 L721.50,243.84 L722.50,243.67 L723.50,243.38 L724.50,242.96 L725.50,242.41 L726.50,241.72 L727.50,240.88 L728.50,239.89 L729.50,238.73 L730.50,237.41 L731.50,235.97 L732.50,234.46 L733.50,232.90 L734.50,231.35 L735.50,229.85 L736.50,228.43 L737.50,227.12 L738.50,225.90 L739.50,224.72 L740.50,223.55 L741.50,222.33 L742.50,221.04 L743.50,219.65 L744.50,218.17 L745.50,216.60 L746.50,214.96 L747.50,213.24 L748.50,211.46 L749.50,209.62 L750.50,207.73 L751.50,205.80 L752.50,203.82 L753.50,201.81 L754.50,199.78 L755.50,197.73 L756.50,195.66 L757.50,193.59 L758.50,191.52 L759.50,189.45 L760.50,187.40 L761.50,185.37 L762.50,183.36 L763.50,181.39 L764.50,179.45 L765.50,177.57 L766.50,175.73 L767.50,173.97 L768.50,172.29 L769.50,170.71 L770.50,169.24 L771.50,167.90 L772.50,166.71 L773.50,165.68 L774.50,164.83 L775.50,164.17 L776.50,163.71 L777.50,163.48 L778.50,163.46 L779.50,163.66 L780.50,164.05 L781.50,164.63 L782.50,165.39 L783.50,166.31 L784.50,167.39 L785.50,168.62 L786.50,169.98 L787.50,171.46 L788.50,173.05 L789.50,174.75 L790.50,176.53 L791.50,178.37 L792.50,180.27 L793.50,182.20 L794.50,184.16 L795.50,186.13 L796.50,188.09 L797.50,190.02 L798.50,191.92 L799.50,193.76 L800.50,195.54 L801.50,197.23 L802.50,198.82 L803.50,200.30 L804.50,201.65 L805.50,202.85 L806.50,203.90 L807.50,204.76 L807.80,204.99" stroke="#e3766c" stroke-width="1.5" fill="none" stroke-dasharray="5 3.5"/>
<path d="M598.00,241.30 L599.00,240.64 L600.00,240.01 L601.00,239.41 L602.00,238.82 L603.00,238.25 L604.00,237.70 L605.00,237.15 L606.00,236.61 L607.00,236.06 L608.00,235.52 L609.00,234.97 L610.00,234.41 L611.00,233.83 L612.00,233.24 L613.00,232.63 L614.00,231.99 L615.00,231.32 L616.00,230.62 L617.00,229.88 L618.00,229.11 L619.00,228.29 L620.00,227.42 L621.00,226.50 L622.00,225.53 L623.00,224.50 L624.00,223.41 L625.00,222.25 L626.00,221.02 L627.00,219.71 L628.00,218.34 L629.00,216.89 L630.00,215.38 L631.00,213.82 L632.00,212.21 L633.00,210.56 L634.00,208.85 L635.00,207.10 L636.00,205.29 L637.00,203.42 L638.00,201.47 L639.00,199.46 L640.00,197.36 L641.00,195.21 L642.00,193.00 L643.00,190.76 L644.00,188.51 L645.00,186.26 L646.00,184.02 L647.00,181.82 L648.00,179.68 L649.00,177.60 L650.00,175.58 L651.00,173.59 L652.00,171.61 L653.00,169.60 L654.00,167.53 L655.00,165.38 L656.00,163.12 L657.00,160.72 L658.00,158.24 L659.00,155.79 L660.00,153.45 L661.00,151.31 L662.00,149.48 L663.00,148.03 L664.00,146.95 L665.00,146.23 L666.00,145.86 L667.00,145.81 L668.00,146.06 L669.00,146.60 L670.00,147.42 L671.00,148.48 L672.00,149.78 L673.00,151.29 L674.00,153.01 L675.00,154.90 L676.00,156.96 L677.00,159.15 L678.00,161.46 L679.00,163.85 L680.00,166.30 L681.00,168.79 L682.00,171.27 L683.00,173.74 L684.00,176.16 L685.00,178.52 L686.00,180.85 L687.00,183.20 L688.00,185.56 L689.00,187.86 L690.00,190.03 L691.00,192.03 L692.00,193.84 L693.00,195.48 L694.00,196.92 L695.00,198.18 L696.00,199.25 L697.00,200.12 L698.00,200.79 L699.00,201.28 L700.00,201.58 L701.00,201.72 L702.00,201.70 L703.00,201.53 L704.00,201.23 L705.00,200.81 L706.00,200.28 L707.00,199.66 L708.00,198.99 L709.00,198.28 L710.00,197.58 L711.00,196.90 L712.00,196.28 L713.00,195.74 L714.00,195.31 L715.00,194.98 L716.00,194.77 L717.00,194.66 L718.00,194.65 L719.00,194.75 L720.00,194.95 L721.00,195.25 L722.00,195.65 L723.00,196.15 L724.00,196.75 L725.00,197.45 L726.00,198.23 L727.00,199.11 L728.00,200.09 L729.00,201.15 L730.00,202.30 L731.00,203.48 L732.00,204.66 L733.00,205.78 L734.00,206.80 L735.00,207.66 L736.00,208.33 L737.00,208.79 L738.00,209.08 L739.00,209.24 L740.00,209.30 L741.00,209.28 L742.00,209.19 L743.00,209.03 L744.00,208.80 L745.00,208.50 L746.00,208.15 L747.00,207.72 L748.00,207.25 L749.00,206.71 L750.00,206.12 L751.00,205.49 L752.00,204.80 L753.00,204.07 L754.00,203.29 L755.00,202.48 L756.00,201.62 L757.00,200.74 L758.00,199.82 L759.00,198.86 L760.00,197.89 L761.00,196.89 L762.00,195.88 L763.00,194.88 L764.00,193.89 L765.00,192.92 L766.00,191.99 L767.00,191.11 L768.00,190.28 L769.00,189.53 L770.00,188.85 L771.00,188.27 L772.00,187.79 L773.00,187.43 L774.00,187.18 L775.00,187.07 L776.00,187.09 L777.00,187.23 L778.00,187.48 L779.00,187.85 L780.00,188.31 L781.00,188.87 L782.00,189.53 L783.00,190.27 L784.00,191.09 L785.00,191.98 L786.00,192.94 L787.00,193.96 L788.00,195.04 L789.00,196.17 L790.00,197.34 L791.00,198.55 L792.00,199.79 L793.00,201.04 L794.00,202.31 L795.00,203.58 L796.00,204.83 L797.00,206.06 L798.00,207.25 L799.00,208.40 L800.00,209.50 L801.00,210.53 L802.00,211.48 L803.00,212.35 L804.00,213.12 L805.00,213.78 L806.00,214.32 L807.00,214.73 L807.80,214.96" stroke="#33b7d3" stroke-width="1.8" fill="none" stroke-dasharray="2.3 1.7"/>
<path d="M599.00,177.79 L600.00,177.88 L601.00,177.92 L602.00,177.93 L603.00,177.92 L604.00,177.88 L605.00,177.83 L606.00,177.77 L607.00,177.71 L608.00,177.65 L609.00,177.61 L610.00,177.59 L611.00,177.60 L612.00,177.63 L613.00,177.71 L614.00,177.83 L615.00,178.01 L616.00,178.25 L617.00,178.55 L618.00,178.93 L619.00,179.39 L620.00,179.94 L621.00,180.58 L622.00,181.32 L623.00,182.17 L624.00,183.13 L625.00,184.21 L626.00,185.43 L627.00,186.77 L628.00,188.26 L629.00,189.87 L630.00,191.61 L631.00,193.45 L632.00,195.38 L633.00,197.40 L634.00,199.48 L635.00,201.63 L636.00,203.83 L637.00,206.06 L638.00,208.32 L639.00,210.58 L640.00,212.85 L641.00,215.11 L642.00,217.35 L643.00,219.55 L644.00,221.71 L645.00,223.81 L646.00,225.84 L647.00,227.79 L648.00,229.64 L649.00,231.40 L650.00,233.03 L651.00,234.53 L652.00,235.87 L653.00,237.03 L654.00,237.97 L655.00,238.67 L656.00,239.12 L657.00,239.29 L658.00,239.23 L659.00,239.02 L660.00,238.70 L661.00,238.30 L662.00,237.83 L663.00,237.28 L664.00,236.67 L665.00,236.01 L666.00,235.31 L667.00,234.57 L668.00,233.80 L669.00,233.01 L670.00,232.21 L671.00,231.40 L672.00,230.59 L673.00,229.80 L674.00,229.03 L675.00,228.28 L676.00,227.54 L677.00,226.84 L678.00,226.15 L679.00,225.49 L680.00,224.85 L681.00,224.25 L682.00,223.66 L683.00,223.11 L684.00,222.59 L685.00,222.09 L686.00,221.63 L687.00,221.20 L688.00,220.81 L689.00,220.44 L690.00,220.12 L691.00,219.83 L692.00,219.57 L693.00,219.36 L694.00,219.18 L695.00,219.05 L696.00,218.95 L697.00,218.90 L698.00,218.89 L699.00,218.92 L700.00,219.00 L701.00,219.13 L702.00,219.30 L703.00,219.52 L704.00,219.79 L705.00,220.11 L706.00,220.49 L707.00,220.93 L708.00,221.42 L709.00,221.99 L710.00,222.62 L711.00,223.32 L712.00,224.10 L713.00,224.96 L714.00,225.90 L715.00,226.92 L716.00,228.03 L717.00,229.22 L718.00,230.48 L719.00,231.80 L720.00,233.16 L721.00,234.54 L722.00,235.93 L723.00,237.33 L724.00,238.70 L725.00,240.05 L726.00,241.37 L727.00,242.65 L728.00,243.90 L729.00,245.11 L730.00,246.28 L731.00,247.42 L732.00,248.51 L733.00,249.55 L734.00,250.55 L735.00,251.51 L736.00,252.42 L737.00,253.27 L738.00,254.08 L739.00,254.84 L740.00,255.55 L741.00,256.21 L742.00,256.83 L743.00,257.41 L744.00,257.94 L745.00,258.43 L746.00,258.89 L747.00,259.30 L748.00,259.68 L749.00,260.02 L750.00,260.33 L751.00,260.61 L752.00,260.85 L753.00,261.06 L754.00,261.24 L755.00,261.39 L756.00,261.50 L757.00,261.59 L758.00,261.65 L759.00,261.68 L760.00,261.68 L761.00,261.66 L762.00,261.60 L763.00,261.53 L764.00,261.42 L765.00,261.29 L766.00,261.14 L767.00,260.96 L768.00,260.75 L769.00,260.53 L770.00,260.28 L771.00,260.01 L772.00,259.72 L773.00,259.41 L774.00,259.08 L775.00,258.72 L776.00,258.35 L777.00,257.97 L778.00,257.56 L779.00,257.13 L780.00,256.69 L781.00,256.24 L782.00,255.77 L783.00,255.30 L784.00,254.82 L785.00,254.34 L786.00,253.85 L787.00,253.37 L788.00,252.90 L789.00,252.43 L790.00,251.97 L791.00,251.53 L792.00,251.10 L793.00,250.69 L794.00,250.30 L795.00,249.94 L796.00,249.60 L797.00,249.29 L798.00,249.02 L799.00,248.78 L800.00,248.58 L801.00,248.42 L802.00,248.30 L803.00,248.22 L804.00,248.20 L805.00,248.23 L806.00,248.31 L807.00,248.45 L807.80,248.60" stroke="#4a63d8" stroke-width="1.5" fill="none"/>
<circle cx="612" cy="178" r="3.4" fill="#fff" stroke="#4a63d8" stroke-width="1.2"/>
<circle cx="656" cy="239.4" r="3.4" fill="#fff" stroke="#4a63d8" stroke-width="1.2"/>
<circle cx="594.8" cy="303.3" r="3.2" fill="#4a63d8"/>
<circle cx="684.9" cy="303.3" r="3.2" fill="#e5766b"/>
<circle cx="760.9" cy="303.3" r="3.2" fill="#2bbad6"/>
</svg>
<div class="t" style="left:602.70px;top:299.74px;font-size:8.1px;line-height:8.1px;color:#55585f;-webkit-text-stroke:0.2px #55585f;">Session Duration</div>
<div class="t" style="left:694.20px;top:299.74px;font-size:8.1px;line-height:8.1px;color:#55585f;-webkit-text-stroke:0.2px #55585f;letter-spacing:0.07px;">Transactions</div>
<div class="t" style="left:769.30px;top:299.74px;font-size:8.1px;line-height:8.1px;color:#55585f;-webkit-text-stroke:0.2px #55585f;letter-spacing:0.2px;">Total Visits</div>
<div class="card" style="left:563.5px;top:343.5px;width:260.5px;height:170px;"></div>
<div class="t" style="left:578.00px;top:358.77px;font-size:12.2px;line-height:12.2px;color:#474a55;-webkit-text-stroke:0.5px #474a55;letter-spacing:0.17px;">User statistics by country</div>
<div class="t" style="left:577.70px;top:384.14px;font-size:8.1px;line-height:8.1px;color:#4a4d57;-webkit-text-stroke:0.25px #4a4d57;">Arab Emirates</div>
<div class="b" style="left:650.8px;top:385.1px;width:144.5px;height:5px;background:#d7eefb;border-radius:1.5px;"></div>
<div class="t" style="left:577.70px;top:400.57px;font-size:8.1px;line-height:8.1px;color:#4a4d57;-webkit-text-stroke:0.25px #4a4d57;">Canada</div>
<div class="b" style="left:650.8px;top:401.6px;width:58.1px;height:5px;background:#d7eefb;border-radius:1.5px;"></div>
<div class="t" style="left:577.70px;top:417.00px;font-size:8.1px;line-height:8.1px;color:#4a4d57;-webkit-text-stroke:0.25px #4a4d57;">United Kingdom</div>
<div class="b" style="left:650.8px;top:418px;width:85.2px;height:5px;background:#d7eefb;border-radius:1.5px;"></div>
<div class="t" style="left:577.70px;top:433.43px;font-size:8.1px;line-height:8.1px;color:#4a4d57;-webkit-text-stroke:0.25px #4a4d57;">Netherlands</div>
<div class="b" style="left:650.8px;top:434.5px;width:64.3px;height:5px;background:#d7eefb;border-radius:1.5px;"></div>
<div class="t" style="left:577.70px;top:449.86px;font-size:8.1px;line-height:8.1px;color:#4a4d57;-webkit-text-stroke:0.25px #4a4d57;">Italy</div>
<div class="b" style="left:650.8px;top:450.9px;width:110.4px;height:5px;background:#d7eefb;border-radius:1.5px;"></div>
<div class="t" style="left:577.70px;top:466.29px;font-size:8.1px;line-height:8.1px;color:#4a4d57;-webkit-text-stroke:0.25px #4a4d57;">France</div>
<div class="b" style="left:650.8px;top:467.3px;width:79.7px;height:5px;background:#d7eefb;border-radius:1.5px;"></div>
<div class="t" style="left:577.70px;top:482.72px;font-size:8.1px;line-height:8.1px;color:#4a4d57;-webkit-text-stroke:0.25px #4a4d57;">Japan</div>
<div class="b" style="left:650.8px;top:483.6px;width:105.6px;height:5px;background:#d7eefb;border-radius:1.5px;"></div>
</div></div>
</body></html>
